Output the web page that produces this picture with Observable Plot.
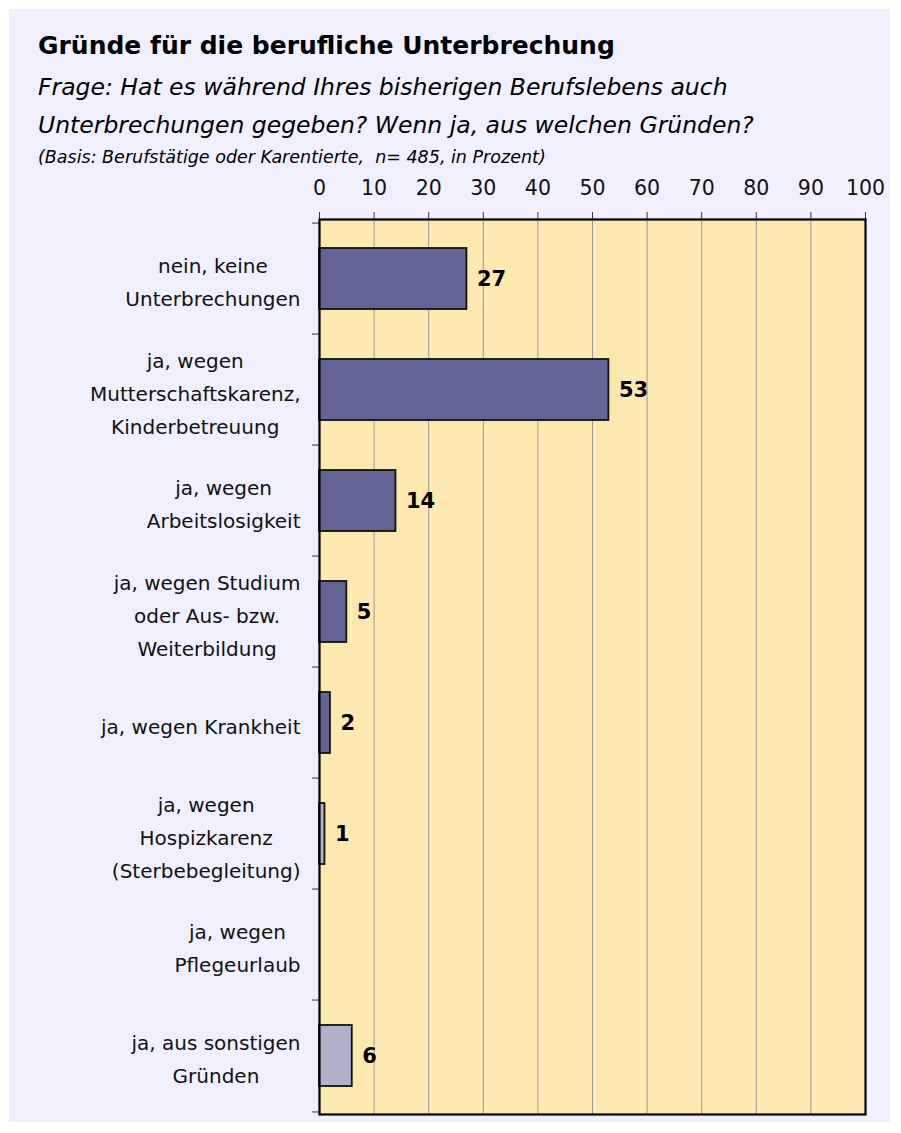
<!DOCTYPE html>
<html>
<head>
<meta charset="utf-8">
<script src="https://cdn.jsdelivr.net/npm/d3@7"></script>
<script src="https://cdn.jsdelivr.net/npm/@observablehq/plot@0.6"></script>
<style>
  html, body { margin: 0; padding: 0; background: #ffffff; }
  #panel { position: absolute; left: 9px; top: 9px; width: 881px; height: 1113px; background: #f0f0fc; font-family: "DejaVu Sans", sans-serif; color: #000; }
  #title { position: absolute; left: 29px; top: 22px; font-size: 25px; font-weight: bold; white-space: nowrap; }
  #sub { position: absolute; left: 29px; top: 59px; font-size: 23.5px; font-style: italic; line-height: 38px; white-space: nowrap; }
  #basis { position: absolute; left: 29px; top: 138px; font-size: 17.5px; font-style: italic; white-space: nowrap; }
  #chart { position: absolute; left: 0; top: 150px; }
</style>
</head>
<body>
<div id="panel">
  <div id="title">Gründe für die berufliche Unterbrechung</div>
  <div id="sub">Frage: Hat es während Ihres bisherigen Berufslebens auch<br>Unterbrechungen gegeben? Wenn ja, aus welchen Gründen?</div>
  <div id="basis">(Basis: Berufstätige oder Karentierte,&nbsp; n= 485, in Prozent)</div>
  <div id="chart"></div>
</div>
<script>
const categories = [
  "nein, keine\nUnterbrechungen",
  "ja, wegen\nMutterschaftskarenz,\nKinderbetreuung",
  "ja, wegen\nArbeitslosigkeit",
  "ja, wegen Studium\noder Aus- bzw.\nWeiterbildung",
  "ja, wegen Krankheit",
  "ja, wegen\nHospizkarenz\n(Sterbebegleitung)",
  "ja, wegen\nPflegeurlaub",
  "ja, aus sonstigen\nGründen"
];
const values = [27, 53, 14, 5, 2, 1, null, 6];
const shades = ["dark", "dark", "dark", "dark", "dark", "light", "light", "light"];
const xTicks = [0, 10, 20, 30, 40, 50, 60, 70, 80, 90, 100];

const data = categories.map((c, i) => ({category: c, value: values[i], shade: shades[i]}));
const shown = data.filter(d => d.value != null && d.value > 0);

const W = 881, H = 963;
const mTop = 60, mBottom = 8, mLeft = 310, mRight = 25;
const step = (H - mTop - mBottom) / categories.length;

const font = "'DejaVu Sans', sans-serif";
const labelSize = 20;
const ctx = document.createElement("canvas").getContext("2d");
ctx.font = `${labelSize}px 'DejaVu Sans'`;
const labelMarks = categories.map(c => {
  const w = d3.max(c.split("\n"), l => ctx.measureText(l).width);
  return Plot.text([c], {
    y: d => d, text: d => d, frameAnchor: "left", textAnchor: "middle",
    dx: -(19 + w / 2), fontSize: labelSize, lineHeight: 1.65, fill: "#111"
  });
});

const plot = Plot.plot({
  width: W, height: H,
  marginTop: mTop, marginBottom: mBottom, marginLeft: mLeft, marginRight: mRight,
  style: {fontFamily: font, background: "transparent", overflow: "visible"},
  x: {domain: [0, 100], axis: null},
  y: {domain: categories, padding: 0, axis: null},
  color: {domain: ["dark", "light"], range: ["#646496", "#b1b1cb"]},
  marks: [
    Plot.frame({fill: "#fde8b0"}),
    Plot.gridX(xTicks, {stroke: "#999", strokeOpacity: 1, strokeWidth: 1}),
    Plot.axisX(xTicks, {anchor: "top", label: null, tickSize: 8, tickPadding: 17, fontSize: 20.5, tickFormat: d => d, stroke: "#333", fill: "#111"}),
    Plot.axisY({anchor: "left", label: null, tickSize: 7, tickFormat: () => "", dy: -step / 2, stroke: "#333"}),
    Plot.axisY([categories[categories.length - 1]], {anchor: "left", label: null, tickSize: 7, tickFormat: () => "", dy: step / 2, stroke: "#333"}),
    ...labelMarks,
    Plot.barX(shown, {x: "value", y: "category", fill: "shade", stroke: "#111", strokeWidth: 1.8, insetTop: 25, insetBottom: 25}),
    Plot.text(shown, {x: "value", y: "category", text: d => String(d.value), dx: 10, textAnchor: "start", fontWeight: "bold", fontSize: 21, fill: "#000"}),
    Plot.frame({stroke: "#000", strokeWidth: 2.2})
  ]
});
document.getElementById("chart").appendChild(plot);
</script>
</body>
</html>
